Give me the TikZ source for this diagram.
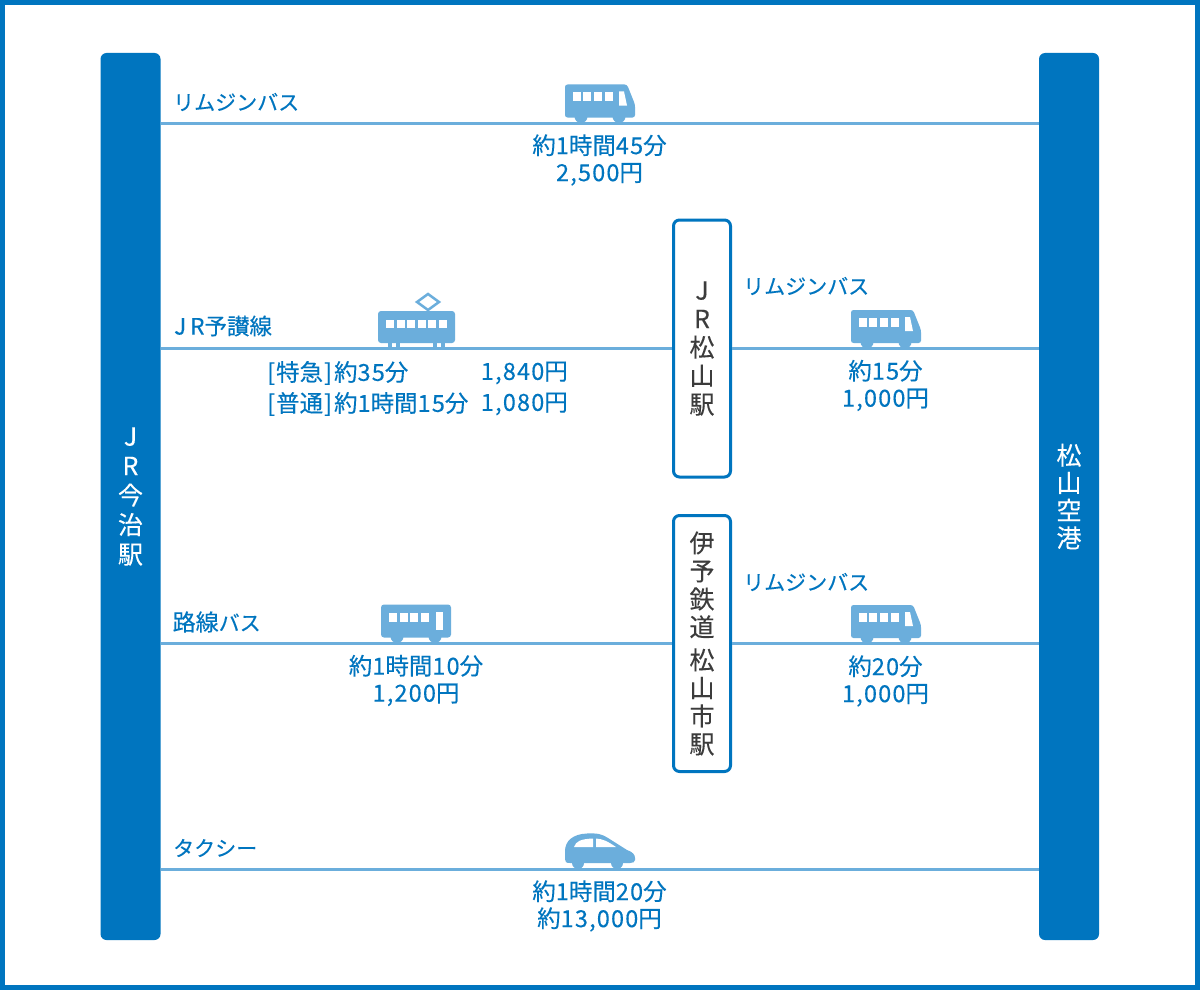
\documentclass[tikz,border=0pt]{standalone}
\usepackage{fontspec}
\setmainfont{Noto Sans CJK JP}[FakeBold=0.25]
\newfontfamily\digitfont{Noto Sans CJK JP}[LetterSpace=5,FakeBold=0.25]
\newcommand{\dg}[1]{{\digitfont #1}}
\definecolor{deepblue}{HTML}{0075BF}
\definecolor{softblue}{HTML}{6BAEDC}
\definecolor{inkgrey}{HTML}{3C3C3C}
\tikzset{
  x=1pt,y=-1pt,
  bar/.style={fill=deepblue,rounded corners=6pt,minimum width=60pt,inner sep=0pt,text=white,align=center},
  stationbox/.style={draw=deepblue,line width=3pt,fill=white,rounded corners=6pt,minimum width=57pt,inner sep=0pt,text=inkgrey,align=center},
  route/.style={draw=softblue,line width=3pt},
  label/.style={text=deepblue,inner sep=0pt,font=\fontsize{23.5}{27}\selectfont,align=center},
  leftlabel/.style={label,anchor=west},
  katakana/.style={leftlabel,font=\fontsize{21}{28}\selectfont},
  limo/.pic={
    \fill[softblue,rounded corners=2.5pt] (0,0) -- (62,0) -- (70,20) -- (70,33) -- (0,33) -- cycle;
    \fill[softblue] (16,32) circle (6.5) (54,32) circle (6.5);
    \foreach \i in {0,1,2,3}{\fill[white] ({7.5+10.7*\i},8) rectangle ++(8,8.5);}
    \fill[white] (54,7) -- (59,7) -- (62,21) -- (54,21) -- cycle;
  },
  citybus/.pic={
    \fill[softblue,rounded corners=3pt] (0,0) rectangle (70,33);
    \fill[softblue] (16,32) circle (6.5) (54,32) circle (6.5);
    \foreach \i in {0,1,2,3}{\fill[white] ({8+10.7*\i},8) rectangle ++(8,9);}
    \fill[white] (55,7) rectangle (62,25);
  },
  tram/.pic={
    \fill[softblue,rounded corners=3pt] (0,0) rectangle (77,32);
    \foreach \x in {10,18,55,63}{\fill[softblue] (\x,30) rectangle ++(4,7);}
    \foreach \i in {0,...,5}{\fill[white] ({8+10.5*\i},9) rectangle ++(8,8);}
    \draw[softblue,line width=2.5pt] (50,-17) -- (61,-9) -- (50,-1) -- (39,-9) -- cycle;
  },
  car/.pic={
    \fill[softblue] (0,26) -- (0,18) .. controls (0,8) and (8,1) .. (22,0.5) .. controls (32,0) and (37,1) .. (43,5) -- (62,17) .. controls (68,19) and (70,22) .. (70,25) -- (70,27) .. controls (70,29) and (68,30) .. (65,30) -- (5,30) .. controls (1,30) and (0,29) .. (0,26) -- cycle;
    \fill[softblue] (13,30) circle (6) (52,30) circle (6);
    \fill[white] (9,14) .. controls (11,8) and (16,6) .. (28,5.5) -- (28,14) -- cycle;
    \fill[white] (31,5.5) .. controls (38,6) and (42,8) .. (51,14) -- (31,14) -- cycle;
  },
}
\begin{document}
\begin{tikzpicture}
\useasboundingbox (0,0) rectangle (1200,990);
\draw[deepblue,line width=5pt,fill=white] (2.5,2.5) rectangle (1197.5,987.5);
% route heights
\coordinate (r1) at (0,123.5);
\coordinate (r2) at (0,348.5);
\coordinate (r3) at (0,643.5);
\coordinate (r4) at (0,869.5);
% stations
\node[bar,minimum height=887pt,font=\fontsize{25}{29.5}\selectfont] (imabari) at (130.5,496.5) {J\\R\\今\\治\\駅};
\node[bar,minimum height=887pt,font=\fontsize{25}{27.5}\selectfont] (airport) at (1069,496.5) {松\\山\\空\\港};
\node[stationbox,minimum height=257pt,font=\fontsize{25}{28.5}\selectfont] (jrm) at (702,348.5) {J\\R\\松\\山\\駅};
\node[stationbox,minimum height=256pt,font=\fontsize{25}{28}\selectfont] (iyo) at (702,643.5) {伊\\予\\鉄\\道\\[5pt]松\\山\\市\\駅};
% routes
\draw[route] (imabari.east |- r1) -- (airport.west |- r1);
\draw[route] (imabari.east |- r2) -- (jrm.west);
\draw[route] (jrm.east) -- (airport.west |- r2);
\draw[route] (imabari.east |- r3) -- (iyo.west);
\draw[route] (iyo.east) -- (airport.west |- r3);
\draw[route] (imabari.east |- r4) -- (airport.west |- r4);
% vehicles
\pic at (565,84.5) {limo};
\pic at (378,311) {tram};
\pic at (851,310) {limo};
\pic at (381,604.5) {citybus};
\pic at (851,605) {limo};
\pic at (565,833) {car};
% labels
\node[katakana] (l1) at (173,102) {リムジンバス};
\node[katakana,font=\fontsize{22.5}{28}\selectfont] (l2) at (174,326) {J\hspace{4pt}R予讃線};
\node[katakana] (l3) at (172.5,622) {{\fontsize{23}{28}\selectfont 路線}バス};
\node[katakana] (l4) at (173,848) {タクシー};
\node[katakana] (l5) at (743,286) {リムジンバス};
\node[katakana] (l6) at (743,582) {リムジンバス};
\node[label] (t1) at (599.5,160) {約\dg{1}時間\dg{45}分\\\dg{2,500}円};
\node[label] (t2) at (885.5,385.5) {約\dg{15}分\\\dg{1,000}円};
\node[label] (t3) at (416,680.5) {約\dg{1}時間\dg{10}分\\\dg{1,200}円};
\node[label] (t4) at (885.5,681) {約\dg{20}分\\\dg{1,000}円};
\node[label] (t5) at (599.5,906) {約\dg{1}時間\dg{20}分\\約\dg{13,000}円};
\node[leftlabel] (t6) at (267,373) {[\hspace{1pt}特急\hspace{1pt}]\hspace{2pt}約\dg{35}分};
\node[leftlabel] (t7) at (267,404) {[\hspace{1pt}普通\hspace{1pt}]\hspace{2pt}約\dg{1}時間\dg{15}分};
\node[label,anchor=east] (t8) at (568,373) {\dg{1,840}円};
\node[label,anchor=east] (t9) at (568,404) {\dg{1,080}円};
\end{tikzpicture}
\end{document}
